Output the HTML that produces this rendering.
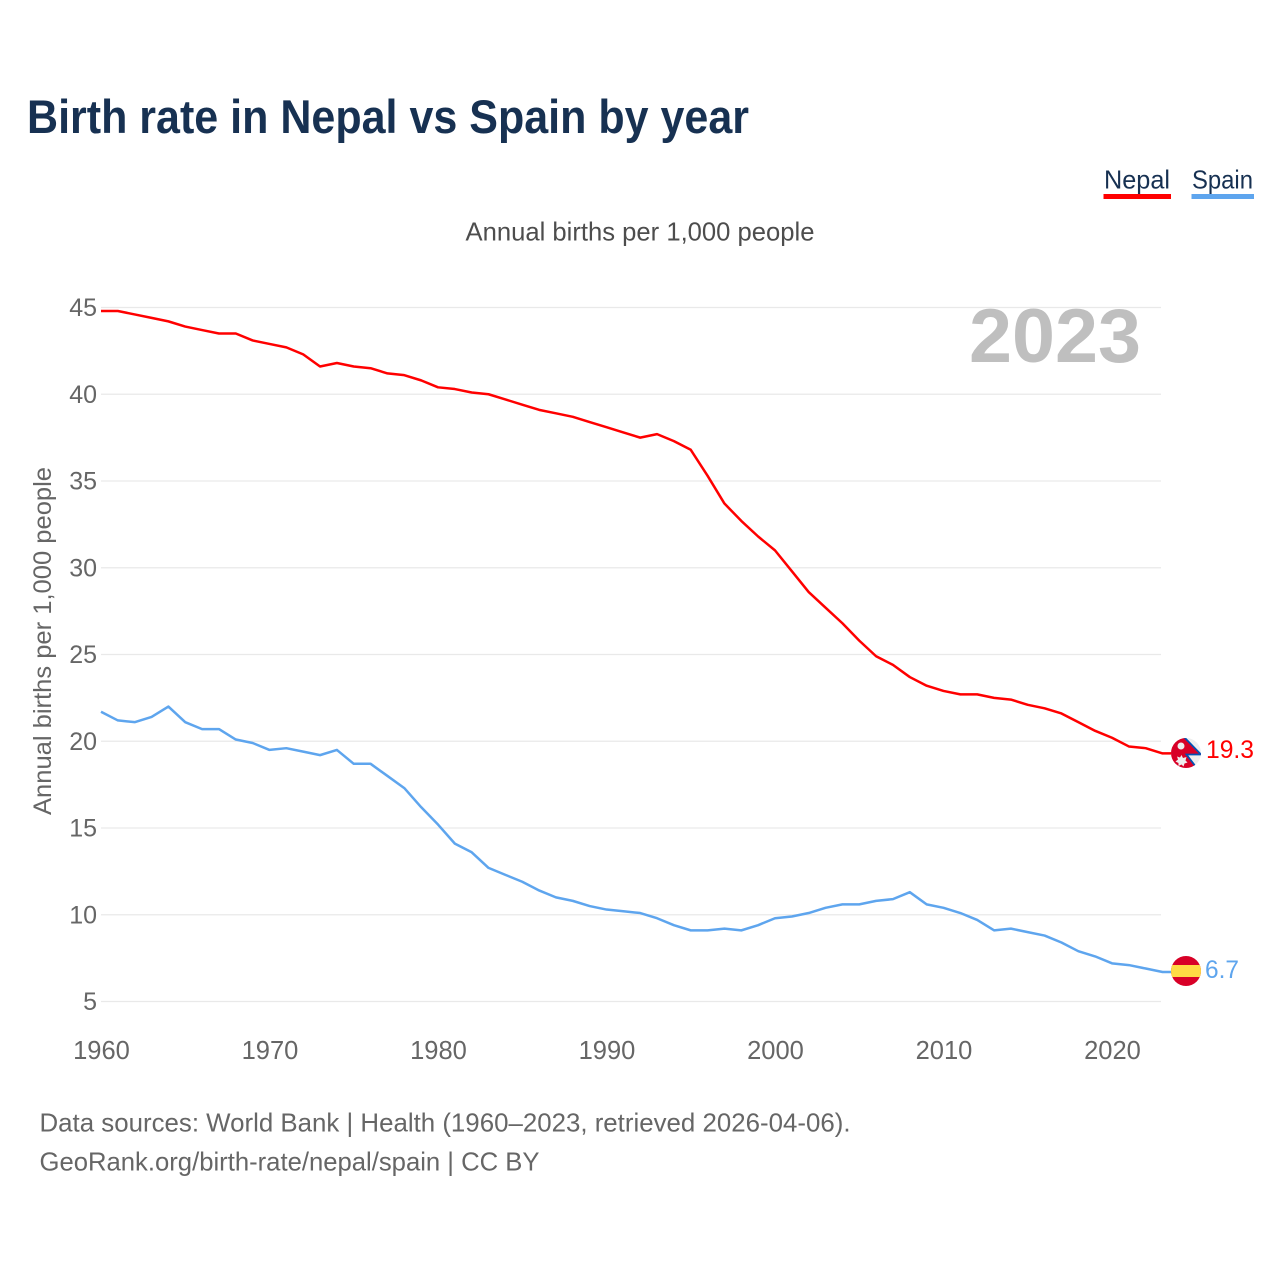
<!DOCTYPE html>
<html lang="en">
<head>
<meta charset="utf-8">
<title>Birth rate in Nepal vs Spain by year</title>
<style>
html,body{margin:0;padding:0;background:#fff;}
svg{display:block;font-family:"Liberation Sans",sans-serif;}
</style>
</head>
<body>
<svg id="chart" xmlns="http://www.w3.org/2000/svg" width="1280" height="1280" viewBox="0 0 1280 1280">
  <defs>
    <clipPath id="flag-clip-nepal"><circle cx="1186" cy="753" r="15"></circle></clipPath>
    <clipPath id="flag-clip-spain"><circle cx="1186" cy="971" r="15"></circle></clipPath>
  </defs>
  <rect x="0" y="0" width="1280" height="1280" fill="#ffffff"></rect>

  <text x="27" y="133" font-size="47" font-weight="700" fill="#173152" textLength="722" lengthAdjust="spacingAndGlyphs">Birth rate in Nepal vs Spain by year</text>

  <g>
    <g style="cursor:pointer">
      <text x="1104" y="188.500" font-size="26" fill="#173152" textLength="66" lengthAdjust="spacingAndGlyphs">Nepal</text>
      <rect x="1103.500" y="194" width="67.500" height="5" fill="#ff0000"></rect>
    </g>
    <g style="cursor:pointer">
      <text x="1192" y="188.500" font-size="26" fill="#173152" textLength="61" lengthAdjust="spacingAndGlyphs">Spain</text>
      <rect x="1191.500" y="194" width="62.500" height="5" fill="#5ea5ee"></rect>
    </g>
  </g>

  <text x="465.500" y="240.500" font-size="26" fill="#4d4d4d" textLength="349" lengthAdjust="spacingAndGlyphs">Annual births per 1,000 people</text>

  <g id="grid"></g>
  <g id="y-ticks"></g>
  <g id="x-ticks"></g>

  <text transform="translate(51,815) rotate(-90)" x="0" y="0" font-size="25" fill="#666666" textLength="348" lengthAdjust="spacingAndGlyphs">Annual births per 1,000 people</text>

  <text x="969" y="362" font-size="76" font-weight="700" fill="#bfbfbf" textLength="172" lengthAdjust="spacingAndGlyphs">2023</text>

  <g id="series"></g>

  <g>
    <g clip-path="url(#flag-clip-nepal)">
      <rect x="1171" y="738" width="30" height="30" fill="#eeeeee"></rect>
      <polygon points="1171,736 1183,736 1202,755 1187,755 1197,768 1171,770" fill="#d80027"></polygon>
      <polyline points="1183,736 1201,754.500 1186.500,754.500 1196,767" fill="none" stroke="#0052b4" stroke-width="1.800"></polyline>
      <circle cx="1181" cy="746" r="3.500" fill="#eeeeee"></circle>
      <polygon points="1181.500,755 1183,758 1186.500,757 1185.500,760.500 1187.500,762.500 1184.500,763.500 1183.500,766.500 1181.500,764.500 1178.500,766 1178.500,763 1175.500,761.500 1178,759.500 1177,756.500 1180,757.500" fill="#eeeeee"></polygon>
    </g>
  </g>
  <g>
    <g clip-path="url(#flag-clip-spain)">
      <rect x="1171" y="956" width="30" height="30" fill="#d80027"></rect>
      <rect x="1171" y="965" width="30" height="12" fill="#ffda44"></rect>
    </g>
  </g>

  <text id="label-nepal" x="1206" y="758" font-size="25" fill="#ff0000" textLength="48" lengthAdjust="spacingAndGlyphs"></text>
  <text id="label-spain" x="1205" y="978" font-size="25" fill="#5ea5ee" textLength="34" lengthAdjust="spacingAndGlyphs"></text>

  <text x="39.500" y="1131.500" font-size="26" fill="#666666" textLength="811" lengthAdjust="spacingAndGlyphs">Data sources: World Bank | Health (1960–2023, retrieved 2026-04-06).</text>
  <text x="39.500" y="1170.500" font-size="26" fill="#666666" textLength="500" lengthAdjust="spacingAndGlyphs">GeoRank.org/birth-rate/nepal/spain | CC BY</text>
</svg>

<script>
const startYear = 1960;
const yTickValues = [5, 10, 15, 20, 25, 30, 35, 40, 45];
const xTickValues = [1960, 1970, 1980, 1990, 2000, 2010, 2020];
const nepalValues = [44.8, 44.8, 44.6, 44.4, 44.2, 43.9, 43.7, 43.5, 43.5, 43.1,
  42.9, 42.7, 42.3, 41.6, 41.8, 41.6, 41.5, 41.2, 41.1, 40.8,
  40.4, 40.3, 40.1, 40.0, 39.7, 39.4, 39.1, 38.9, 38.7, 38.4,
  38.1, 37.8, 37.5, 37.7, 37.3, 36.8, 35.3, 33.7, 32.7, 31.8,
  31.0, 29.8, 28.6, 27.7, 26.8, 25.8, 24.9, 24.4, 23.7, 23.2,
  22.9, 22.7, 22.7, 22.5, 22.4, 22.1, 21.9, 21.6, 21.1, 20.6,
  20.2, 19.7, 19.6, 19.3];
const spainValues = [21.7, 21.2, 21.1, 21.4, 22.0, 21.1, 20.7, 20.7, 20.1, 19.9,
  19.5, 19.6, 19.4, 19.2, 19.5, 18.7, 18.7, 18.0, 17.3, 16.2,
  15.2, 14.1, 13.6, 12.7, 12.3, 11.9, 11.4, 11.0, 10.8, 10.5,
  10.3, 10.2, 10.1, 9.8, 9.4, 9.1, 9.1, 9.2, 9.1, 9.4,
  9.8, 9.9, 10.1, 10.4, 10.6, 10.6, 10.8, 10.9, 11.3, 10.6,
  10.4, 10.1, 9.7, 9.1, 9.2, 9.0, 8.8, 8.4, 7.9, 7.6,
  7.2, 7.1, 6.9, 6.7];

const SVG_NS = 'http://www.w3.org/2000/svg';
const xScale = function (year) { return 101 + (year - 1960) * 16.85; };
const yScale = function (value) { return 1001.5 - (value - 5) * 17.35; };
const gridLayer = document.getElementById('grid');
const yLayer = document.getElementById('y-ticks');
const xLayer = document.getElementById('x-ticks');
const seriesLayer = document.getElementById('series');

yTickValues.forEach(function (value) {
  const line = document.createElementNS(SVG_NS, 'line');
  
  
  line.setAttribute('x1', 101);
  line.setAttribute('x2', 1161);
  line.setAttribute('y1', yScale(value));
  line.setAttribute('y2', yScale(value));
  line.setAttribute('stroke', '#e9e9e9');
  line.setAttribute('stroke-width', '1.300');
  gridLayer.appendChild(line);

  const label = document.createElementNS(SVG_NS, 'text');
  
  
  label.setAttribute('x', 97);
  label.setAttribute('y', yScale(value) + 8.5);
  label.setAttribute('text-anchor', 'end');
  label.setAttribute('font-size', '25');
  label.setAttribute('fill', '#666666');
  label.textContent = value;
  yLayer.appendChild(label);
});

xTickValues.forEach(function (year) {
  const label = document.createElementNS(SVG_NS, 'text');
  
  
  label.setAttribute('x', xScale(year) + 0.5);
  label.setAttribute('y', 1059);
  label.setAttribute('text-anchor', 'middle');
  label.setAttribute('font-size', '25.500');
  label.setAttribute('fill', '#666666');
  label.textContent = year;
  xLayer.appendChild(label);
});

function drawSeries(values, color, name) {
  const points = values.map(function (value, i) {
    return xScale(startYear + i).toFixed(2) + ',' + yScale(value).toFixed(2);
  });
  const lastY = yScale(values[values.length - 1]);
  points.push('1172,' + lastY.toFixed(2));
  const line = document.createElementNS(SVG_NS, 'polyline');
  
  
  line.setAttribute('points', points.join(' '));
  line.setAttribute('fill', 'none');
  line.setAttribute('stroke', color);
  line.setAttribute('stroke-width', '2.500');
  line.setAttribute('stroke-linejoin', 'round');
  seriesLayer.appendChild(line);
}
drawSeries(nepalValues, '#ff0000', 'nepal');
drawSeries(spainValues, '#5ea5ee', 'spain');

document.getElementById('label-nepal').textContent = nepalValues[nepalValues.length - 1].toFixed(1);
document.getElementById('label-spain').textContent = spainValues[spainValues.length - 1].toFixed(1);
</script>
</body>
</html>
